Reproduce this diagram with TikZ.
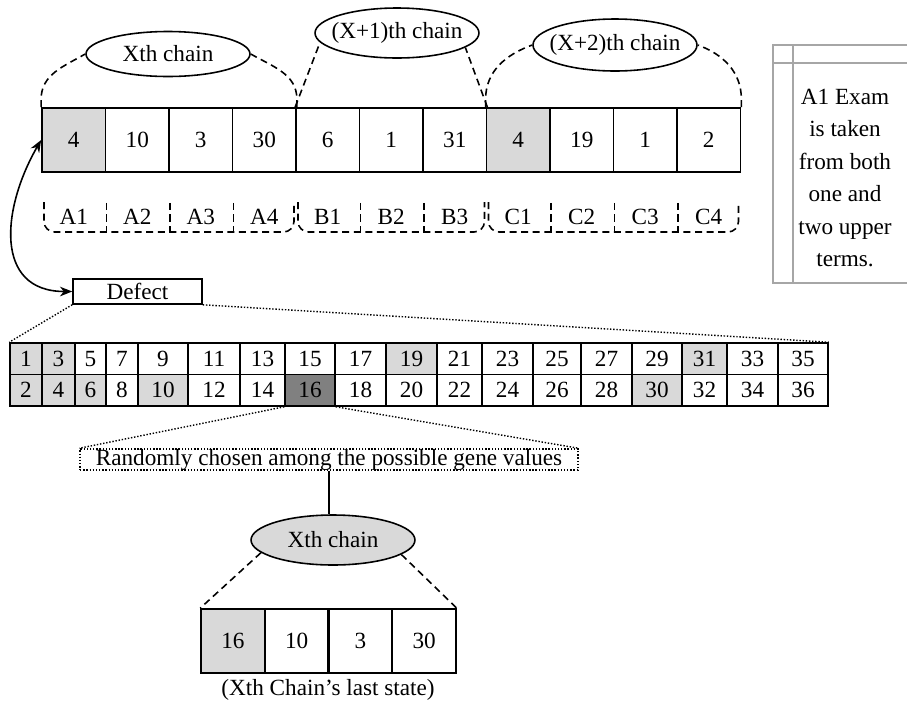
\documentclass[tikz,border=0pt]{standalone}
\usepackage{fontspec}
\setmainfont{Liberation Serif}
\usepackage{tikz}
\usetikzlibrary{arrows.meta, shapes.geometric}
\definecolor{genegray}{HTML}{D9D9D9}
\definecolor{genedark}{HTML}{808080}
\definecolor{notegray}{HTML}{A6A6A6}

\begin{document}
\begin{tikzpicture}[
    x=0.02cm, y=0.02cm,
    every node/.style={font=\fontsize{13.2}{18.5}\selectfont},
    gene/.style={draw, line width=1pt, minimum width=1.27cm,
                 minimum height=1.28cm, inner sep=0pt},
    cell/.style={draw, line width=0.9pt, minimum height=0.63cm, inner sep=0pt},
    chain/.style={draw, ellipse, line width=0.9pt, minimum width=3.28cm,
                  minimum height=1cm, inner sep=0pt},
    link/.style={line width=0.9pt, dash pattern=on 4pt off 2.6pt},
    dotline/.style={densely dotted, line width=0.8pt},
    group/.style={link, rounded corners=6pt}
  ]
    \useasboundingbox (0,0) rectangle (907,-704);

    % chromosome with its three chains
    \foreach \v/\f [count=\i] in {4/genegray, 10/white, 3/white, 30/white,
        6/white, 1/white, 31/white, 4/genegray, 19/white, 1/white, 2/white}
      \node[gene, fill=\f] (t\i) at ({42+63.5*(\i-0.5)}, -140) {\v};

    \foreach \l [count=\i] in {A1,A2,A3,A4,B1,B2,B3,C1,C2,C3,C4}
      \node (l\i) at ({42+63.5*(\i-0.5)}, -217) {\l};

    \foreach \i in {1,2,3,5,6,8,9,10}
      \draw[link] (t\i.south east) ++(0,-30) -- ++(0,-30);
    \draw[group] (44,-202) -- (44,-232) -- (294,-232) -- (294,-202);
    \draw[group] (298,-202) -- (298,-232) -- (484.5,-232) -- (484.5,-202);
    \draw[group] (488.5,-202) -- (488.5,-232) -- (738.5,-232) -- (738.5,-202);

    \node[chain, minimum height=0.9cm, label=center:Xth chain] (xc) at (168,-54) {};
    \node[chain, label={center:(X+1)th chain}] (x1c) at (397,-33) {};
    \node[chain, minimum height=1.04cm, label={center:(X+2)th chain}] (x2c) at (615,-45) {};

    \draw[link] (t1.north west) -- ++(0,8) to[out=90, in=210] (xc.west);
    \draw[link] (t4.north east) -- ++(0,8) to[out=90, in=-30] (xc.east);
    \draw[link] (t5.north west) -- (x1c.187);
    \draw[link] (t7.north east) -- (x1c.-12);
    \draw[link] (t8.north west) -- ++(0,8) to[out=90, in=200] (x2c.west);
    \draw[link] (t11.north east) -- ++(0,8) to[out=90, in=-20] (x2c.east);

    % side note
    \draw[notegray, line width=0.6pt] (907,-45) -- (773,-45) -- (773,-283) -- (907,-283);
    \draw[notegray, line width=0.6pt] (773,-63) -- (907,-63) (793,-45) -- (793,-283);
    \node[align=center] (note) at (845,-178)
      {A1 Exam\\is taken\\from both\\one and\\two upper\\terms.};

    % defect table
    \node[draw, line width=0.9pt, minimum width=2.58cm, minimum height=0.5cm,
          inner sep=0pt] (defect) at (137.5,-291.5) {Defect};
    \draw[{Stealth[length=7pt, width=5.5pt]}-{Stealth[length=7pt, width=5.5pt]},
          line width=0.9pt]
      (t1.west) to[out=240, in=180, looseness=1.3] (defect.west);

    \foreach \l/\r/\ft/\fb [count=\k] in {10/42/genegray/genegray,
        42/75/genegray/genegray, 75/106/white/genegray, 106/138/white/white,
        138/188/white/genegray, 188/240/white/white, 240/285/white/white,
        285/335/white/genedark, 335/386/white/white, 386/437/genegray/white,
        437/482/white/white, 482/533/white/white, 533/581/white/white,
        581/632/white/white, 632/682/white/genegray, 682/727/genegray/white,
        727/778/white/white, 778/828/white/white}
    {
      \pgfmathtruncatemacro\up{2*\k-1}
      \pgfmathtruncatemacro\dn{2*\k}
      \pgfmathsetmacro\w{(\r-\l)*0.02}
      \node[cell, fill=\ft, minimum width=\w cm] (g\up) at ({(\l+\r)/2}, -358.75) {\up};
      \node[cell, fill=\fb, minimum width=\w cm] (g\dn) at ({(\l+\r)/2}, -390.25) {\dn};
    }

    \draw[dotline] (defect.south west) -- (g1.north west);
    \draw[dotline] (defect.south east) -- (g35.north east);

    % chosen gene goes to the last state
    \node[draw, dotline, minimum width=9.96cm, minimum height=0.38cm,
          inner sep=0pt] (rand) at (329,-459.5)
      {Randomly chosen among the possible gene values};
    \draw[dotline] (g16.south west) -- (rand.north west);
    \draw[dotline] (g16.south east) -- (rand.north east);

    \foreach \v/\f [count=\i] in {16/genegray, 10/white, 3/white, 30/white}
      \node[gene, fill=\f] (b\i) at ({201+63.75*(\i-0.5)}, -641) {\v};

    \node[chain, fill=genegray, label=center:Xth chain] (lc) at (333,-540) {};
    \draw[line width=0.9pt] (rand.south) -- (rand.south |- lc.north);
    \draw[link] (lc.190) -- (b1.north west);
    \draw[link] (lc.-12) -- (b4.north east);

    \node (caption) at (328,-690) {(Xth Chain’s last state)};
\end{tikzpicture}
\end{document}
